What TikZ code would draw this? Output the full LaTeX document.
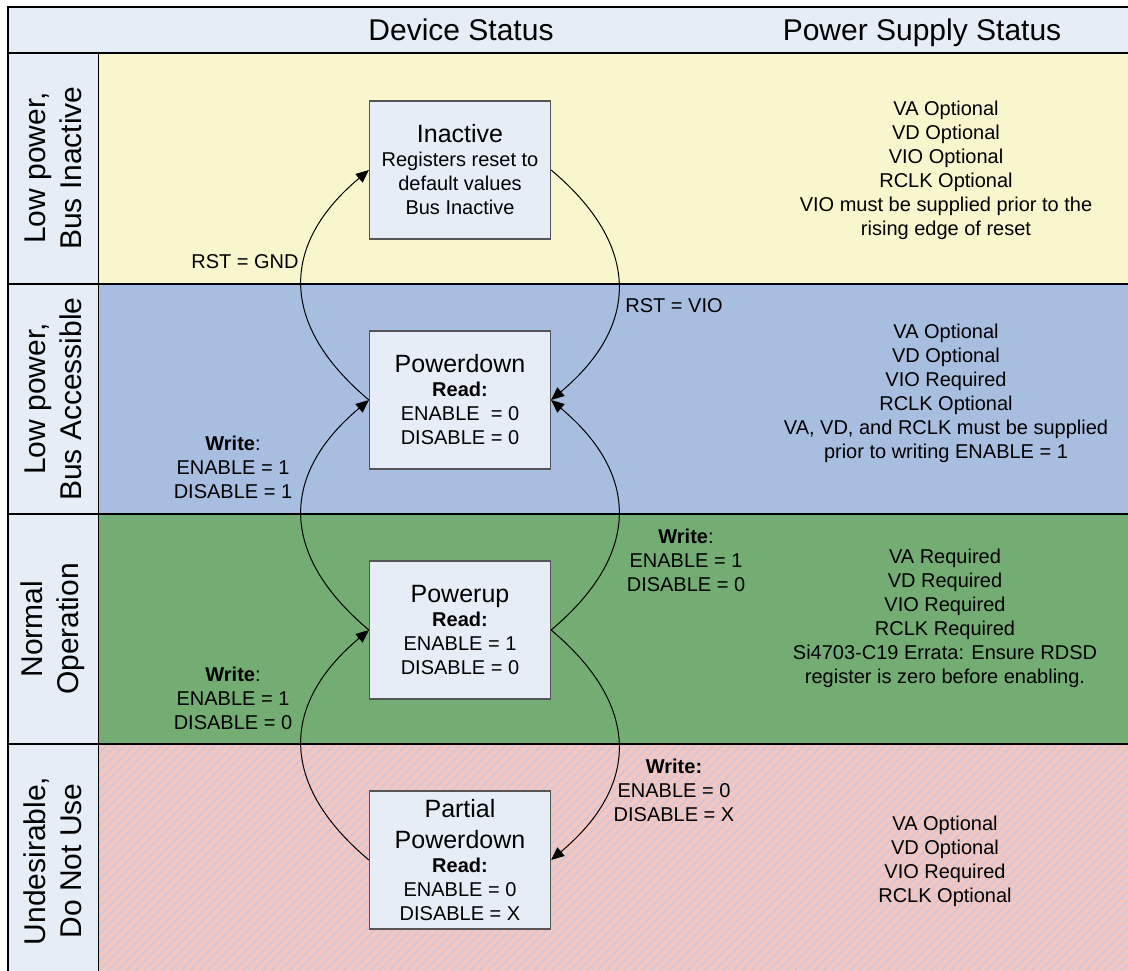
\documentclass[tikz,border=0pt]{standalone}
\usepackage{fontspec}
\setmainfont{Liberation Sans}
\usetikzlibrary{arrows.meta,patterns.meta}
\definecolor{paleblue}{RGB}{231,237,247}
\definecolor{lowyellow}{RGB}{248,246,204}
\definecolor{lowblue}{RGB}{168,190,224}
\definecolor{normgreen}{RGB}{115,173,115}
\definecolor{badpink}{RGB}{243,199,191}
\definecolor{hatchgray}{RGB}{204,198,222}
\definecolor{boxgray}{RGB}{85,85,85}
\newcommand{\bigfont}{\fontsize{15}{18}\selectfont}
\newcommand{\midfont}{\fontsize{12.5}{14}\selectfont}
\newcommand{\smallfont}{\fontsize{10}{12}\selectfont}

\begin{document}
\begin{tikzpicture}[x=0.5pt,y=0.5pt,
    state/.style={draw=boxgray,line width=0.6pt,fill=paleblue,minimum width=90.5pt,minimum height=69pt,align=center,font=\smallfont,inner sep=0pt},
    lane/.style={rotate=90,align=center,font=\bigfont},
    supply/.style={align=center,font=\smallfont},
    cond/.style={align=center,font=\smallfont},
    trans/.style={-{Triangle[length=6.5pt,width=5.5pt]},line width=0.5pt}]
  \useasboundingbox (0,0) rectangle (1128,970);
  \clip (0,0) rectangle (1128,970);
  \fill[paleblue] (8,917) rectangle (1140,963);
  \fill[paleblue] (8,-10) rectangle (98.5,917);
  \fill[lowyellow] (98.5,686) rectangle (1140,917);
  \fill[lowblue] (98.5,456) rectangle (1140,686);
  \fill[normgreen] (98.5,226) rectangle (1140,456);
  \fill[badpink] (98.5,-10) rectangle (1140,226);
  \fill[pattern={Lines[angle=45,distance=3.2pt,line width=0.7pt]},pattern color=hatchgray] (98.5,-10) rectangle (1140,226);
  \draw[line width=0.8pt] (8,-10) -- (8,963) -- (1140,963);
  \draw[line width=0.8pt] (98.5,-10) -- (98.5,917);
  \foreach \y in {917,686,456,226} \draw[line width=0.8pt] (8,\y) -- (1140,\y);

  \node[font=\bigfont,anchor=base] (devhead) at (461,929) {Device Status};
  \node[font=\bigfont,anchor=base] (pshead) at (922,929) {Power Supply Status};

  \node[lane] (lane1) at (53,802) {Low power,\\Bus Inactive};
  \node[lane] (lane2) at (53,571) {Low power,\\Bus Accessible};
  \node[lane] (lane3) at (53,341) {Normal\\Operation};
  \node[lane] (lane4) at (53,109) {Undesirable,\\Do Not Use};

  \node[state] (inactive) at (460,800) {{\midfont Inactive}\\Registers reset to\\default values\\Bus Inactive};
  \node[state] (pdown) at (460,570) {{\midfont Powerdown}\\\textbf{Read:}\\ENABLE\ \ = 0\\DISABLE = 0};
  \node[state] (pup) at (460,340) {{\midfont Powerup}\\\textbf{Read:}\\ENABLE = 1\\DISABLE = 0};
  \node[state] (partial) at (460,110) {{\midfont Partial}\\[3.5pt]{\midfont Powerdown}\\\textbf{Read:}\\ENABLE = 0\\DISABLE = X};

  \draw[trans] (pdown.west) to[out=140,in=220,looseness=1.3] (inactive.west);
  \draw[trans] (inactive.east) to[out=-40,in=40,looseness=1.3] (pdown.east);
  \draw[trans] (pup.west) to[out=140,in=220,looseness=1.3] (pdown.west);
  \draw[trans] (pup.east) to[out=40,in=-40,looseness=1.3] (pdown.east);
  \draw[trans] (partial.west) to[out=140,in=220,looseness=1.3] (pup.west);
  \draw[trans] (pup.east) to[out=-40,in=40,looseness=1.3] (partial.east);

  \node[cond] (rstgnd) at (245,708) {RST = GND};
  \node[cond] (rstvio) at (674,664) {RST = VIO};
  \node[cond] (wrup) at (233,503) {\textbf{Write}:\\ENABLE = 1\\DISABLE = 1};
  \node[cond] (wrdown) at (686,410) {\textbf{Write}:\\ENABLE = 1\\DISABLE = 0};
  \node[cond] (wrwake) at (233,272) {\textbf{Write}:\\ENABLE = 1\\DISABLE = 0};
  \node[cond] (wrpart) at (674,180) {\textbf{Write:}\\ENABLE = 0\\DISABLE = X};

  \node[supply] (ps1) at (946,800) {VA Optional\\VD Optional\\VIO Optional\\RCLK Optional\\VIO must be supplied prior to the\\rising edge of reset};
  \node[supply] (ps2) at (946,577) {VA Optional\\VD Optional\\VIO Required\\RCLK Optional\\VA, VD, and RCLK must be supplied\\prior to writing ENABLE = 1};
  \node[supply] (ps3) at (945,352) {VA Required\\VD Required\\VIO Required\\RCLK Required\\Si4703-C19 Errata: Ensure RDSD\\register is zero before enabling.};
  \node[supply] (ps4) at (945,109) {VA Optional\\VD Optional\\VIO Required\\RCLK Optional};
\end{tikzpicture}
\end{document}
